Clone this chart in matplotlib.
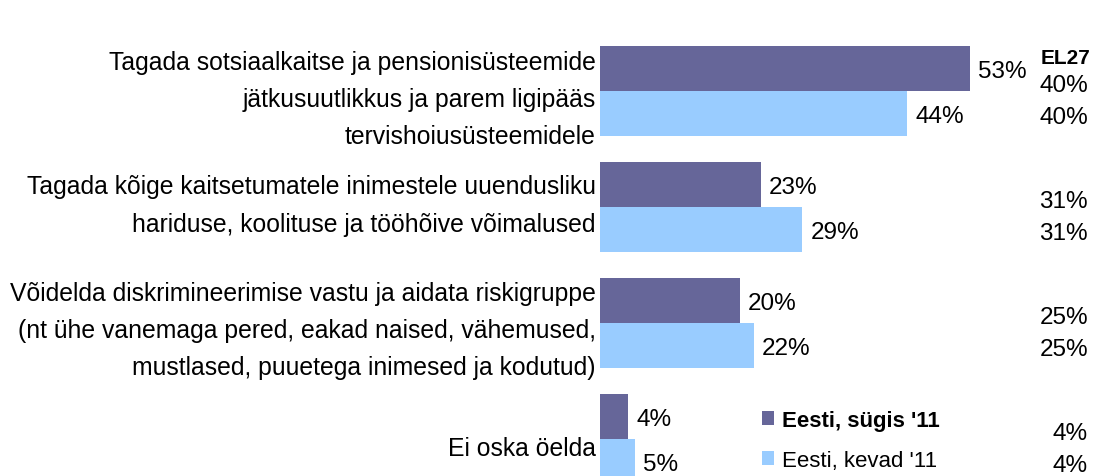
import matplotlib.pyplot as plt
import numpy as np

plt.rcParams['font.family'] = ['Liberation Sans', 'DejaVu Sans']

categories = [
    "Tagada sotsiaalkaitse ja pensionisüsteemide\njätkusuutlikkus ja parem ligipääs\ntervishoiusüsteemidele",
    "Tagada kõige kaitsetumatele inimestele uuendusliku\nhariduse, koolituse ja tööhõive võimalused",
    "Võidelda diskrimineerimise vastu ja aidata riskigruppe\n(nt ühe vanemaga pered, eakad naised, vähemused,\nmustlased, puuetega inimesed ja kodutud)",
    "Ei oska öelda",
]
autumn_11 = [53, 23, 20, 4]
spring_11 = [44, 29, 22, 5]
eu27_autumn = [40, 31, 25, 4]
eu27_spring = [40, 31, 25, 4]
series_names = ["Eesti, sügis '11", "Eesti, kevad '11"]

DARK = '#666699'
LIGHT = '#99CCFF'

W, H = 1093, 477
fig = plt.figure(figsize=(W / 100, H / 100), dpi=100)

# axes placed in pixel terms: starts at x=600, full height
px_per_unit = 116.0
ax = fig.add_axes([600 / W, 0, (W - 600) / W, 1])
ax.set_xlim(0, (W - 600) / 6.98)
ax.set_ylim(3 + 37 / px_per_unit, -92 / px_per_unit)
ax.axis('off')

y = np.arange(len(categories))
h = 45 / px_per_unit
b1 = ax.barh(y - h / 2, autumn_11, height=h, color=DARK, label=series_names[0])
b2 = ax.barh(y + h / 2, spring_11, height=h, color=LIGHT, label=series_names[1])

for bars, vals in ((b1, autumn_11), (b2, spring_11)):
    for bar, v in zip(bars, vals):
        ax.annotate(f"{v}%", (bar.get_width(), bar.get_y() + bar.get_height() / 2),
                    xytext=(6, -2), textcoords='offset points',
                    ha='left', va='center', fontsize=17.5)

# category labels, right-aligned at the axis edge (small per-row nudge in px)
label_nudge = [8, -2, 7, 9]
for yi, cat, dy in zip(y, categories, label_nudge):
    ax.annotate(cat, (0, yi + dy / px_per_unit), xytext=(-3, 0), textcoords='offset points',
                ha='right', va='center', fontsize=17.8, linespacing=1.70,
                annotation_clip=False)

# EL27 column
fig.text(1090 / W, 1 - 58 / H, "EL27", ha='right', va='center',
         fontsize=15, fontweight='bold')
for yi, a, s in zip(y, eu27_autumn, eu27_spring):
    ax.annotate(f"{a}%", (1, yi - 9 / px_per_unit), xycoords=('axes fraction', 'data'),
                xytext=(-5, -3), textcoords='offset pixels',
                ha='right', va='center', fontsize=17.5, annotation_clip=False)
    ax.annotate(f"{s}%", (1, yi + 23 / px_per_unit), xycoords=('axes fraction', 'data'),
                xytext=(-5, -3), textcoords='offset pixels',
                ha='right', va='center', fontsize=17.5, annotation_clip=False)

leg = ax.legend(loc='upper left', bbox_to_anchor=(762 / W, 1 - 411 / H),
                bbox_transform=fig.transFigure, frameon=False, fontsize=16,
                handlelength=0.55, handleheight=0.55, handletextpad=0.35,
                labelspacing=0.85, borderpad=0, borderaxespad=0)
leg.get_texts()[0].set_fontweight('bold')

fig.savefig('out.png', dpi=100)
